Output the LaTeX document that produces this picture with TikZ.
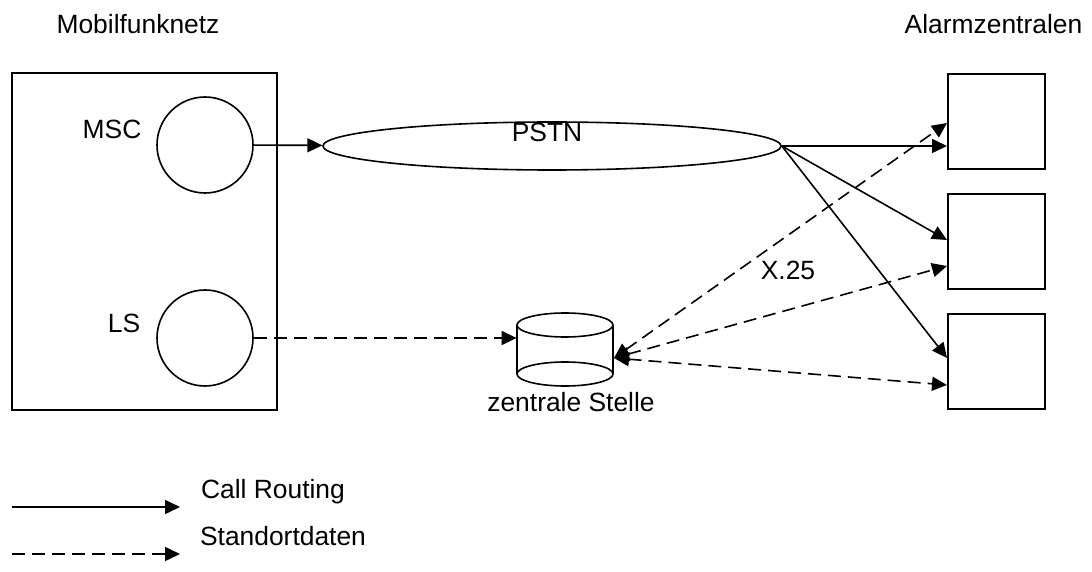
\documentclass[tikz,border=0pt]{standalone}
\usepackage{fontspec}
\setmainfont{Liberation Sans}
\usetikzlibrary{calc, arrows.meta, positioning, shapes.geometric}

\begin{document}
\begin{tikzpicture}[x=0.5pt, y=-0.5pt, >={Triangle[length=7.5pt, width=7pt]}, font=\fontsize{13.2}{16}\selectfont]
		\tikzstyle{box} = [draw=black, line width=1pt, rectangle, inner sep=0pt]
		\tikzstyle{round} = [draw=black, line width=0.8pt, circle, minimum size=48pt, inner sep=0pt]
		\tikzstyle{invis} = [draw=none, inner sep=0pt, anchor=base]
		\tikzstyle{call} = [->, line width=0.8pt]
		\tikzstyle{daten} = [line width=0.8pt, dash pattern=on 6.5pt off 3.5pt]
		
		\useasboundingbox (0,0) rectangle (1092,572);
		
		% Mobilfunknetz
		\node[box, minimum width=132.5pt, minimum height=168.5pt]	at (144.5,241.5)	(netz)	{};
		\node[round]		at (205,145)		(msc)	{};
		\node[round]		at (205,338)		(ls)	{};
		\node[invis]		at (138,34)		(tnetz)	{Mobilfunknetz};
		\node[invis]		at (112,139)		(tmsc)	{MSC};
		\node[invis]		at (124,332)		(tls)	{LS};
		
		% PSTN und zentrale Stelle
		\node[ellipse, draw=black, line width=0.8pt, inner sep=0pt, minimum width=229pt, minimum height=24pt]	at (552,146)	(pstn)	{};
		\node[invis]		at (547,142)		(tpstn)	{PSTN};
		\node[draw=none, inner sep=0pt, minimum width=48pt, minimum height=36.5pt]	at (565,349.5)	(cyl)	{};
		\draw[line width=0.8pt] (565,325) ellipse [x radius=48, y radius=12];
		\draw[line width=0.8pt] (517,325) -- (517,374) arc [start angle=180, end angle=0, x radius=48, y radius=12] -- (613,325);
		\draw[line width=0.8pt] (517,374) arc [start angle=180, end angle=360, x radius=48, y radius=12];
		\node[invis]		at (571,411)		(tcyl)	{zentrale Stelle};
		\node[invis]		at (788,279)		(tx)	{X.25};
		\coordinate		(cylout)	at (614,358);
		
		% Alarmzentralen
		\node[invis]		at (993.5,34)		(talarm)	{Alarmzentralen};
		\node[box, minimum width=48.5pt, minimum height=47.5pt]	at (996.5,121.5)	(az1)	{};
		\node[box, minimum width=48.5pt, minimum height=47.5pt]	at (996.5,241.5)	(az2)	{};
		\node[box, minimum width=48.5pt, minimum height=47.5pt]	at (996.5,361.5)	(az3)	{};
		
		% Legende
		\coordinate		(l1a)	at (12,507);
		\coordinate		(l1b)	at (180,507);
		\coordinate		(l2a)	at (12,554);
		\coordinate		(l2b)	at (180,554);
		\node[invis]		at (273,498)		(tcall)	{Call Routing};
		\node[invis]		at (283,545)		(tdaten)	{Standortdaten};
		
		\path[call]
		(msc)		edge	(pstn)
		(pstn.east)	edge	($(az1.west)+(0,24.5)$)
		(pstn.east)	edge	($(az2.west)+(0,-1.5)$)
		(pstn.east)	edge	($(az3.west)+(0,-3.5)$)
		(l1a)		edge	(l1b);
		
		\draw[daten, ->] (ls) -- (ls -| cyl.west);
		\path[daten, <->]
		(cylout)	edge	($(az1.west)+(0,1.5)$)
		(cylout)	edge	($(az2.west)+(0,24.5)$)
		(cylout)	edge	($(az3.west)+(0,23.5)$);
		\draw[daten, ->] (l2a) -- (l2b);
		\end{tikzpicture}
\end{document}
